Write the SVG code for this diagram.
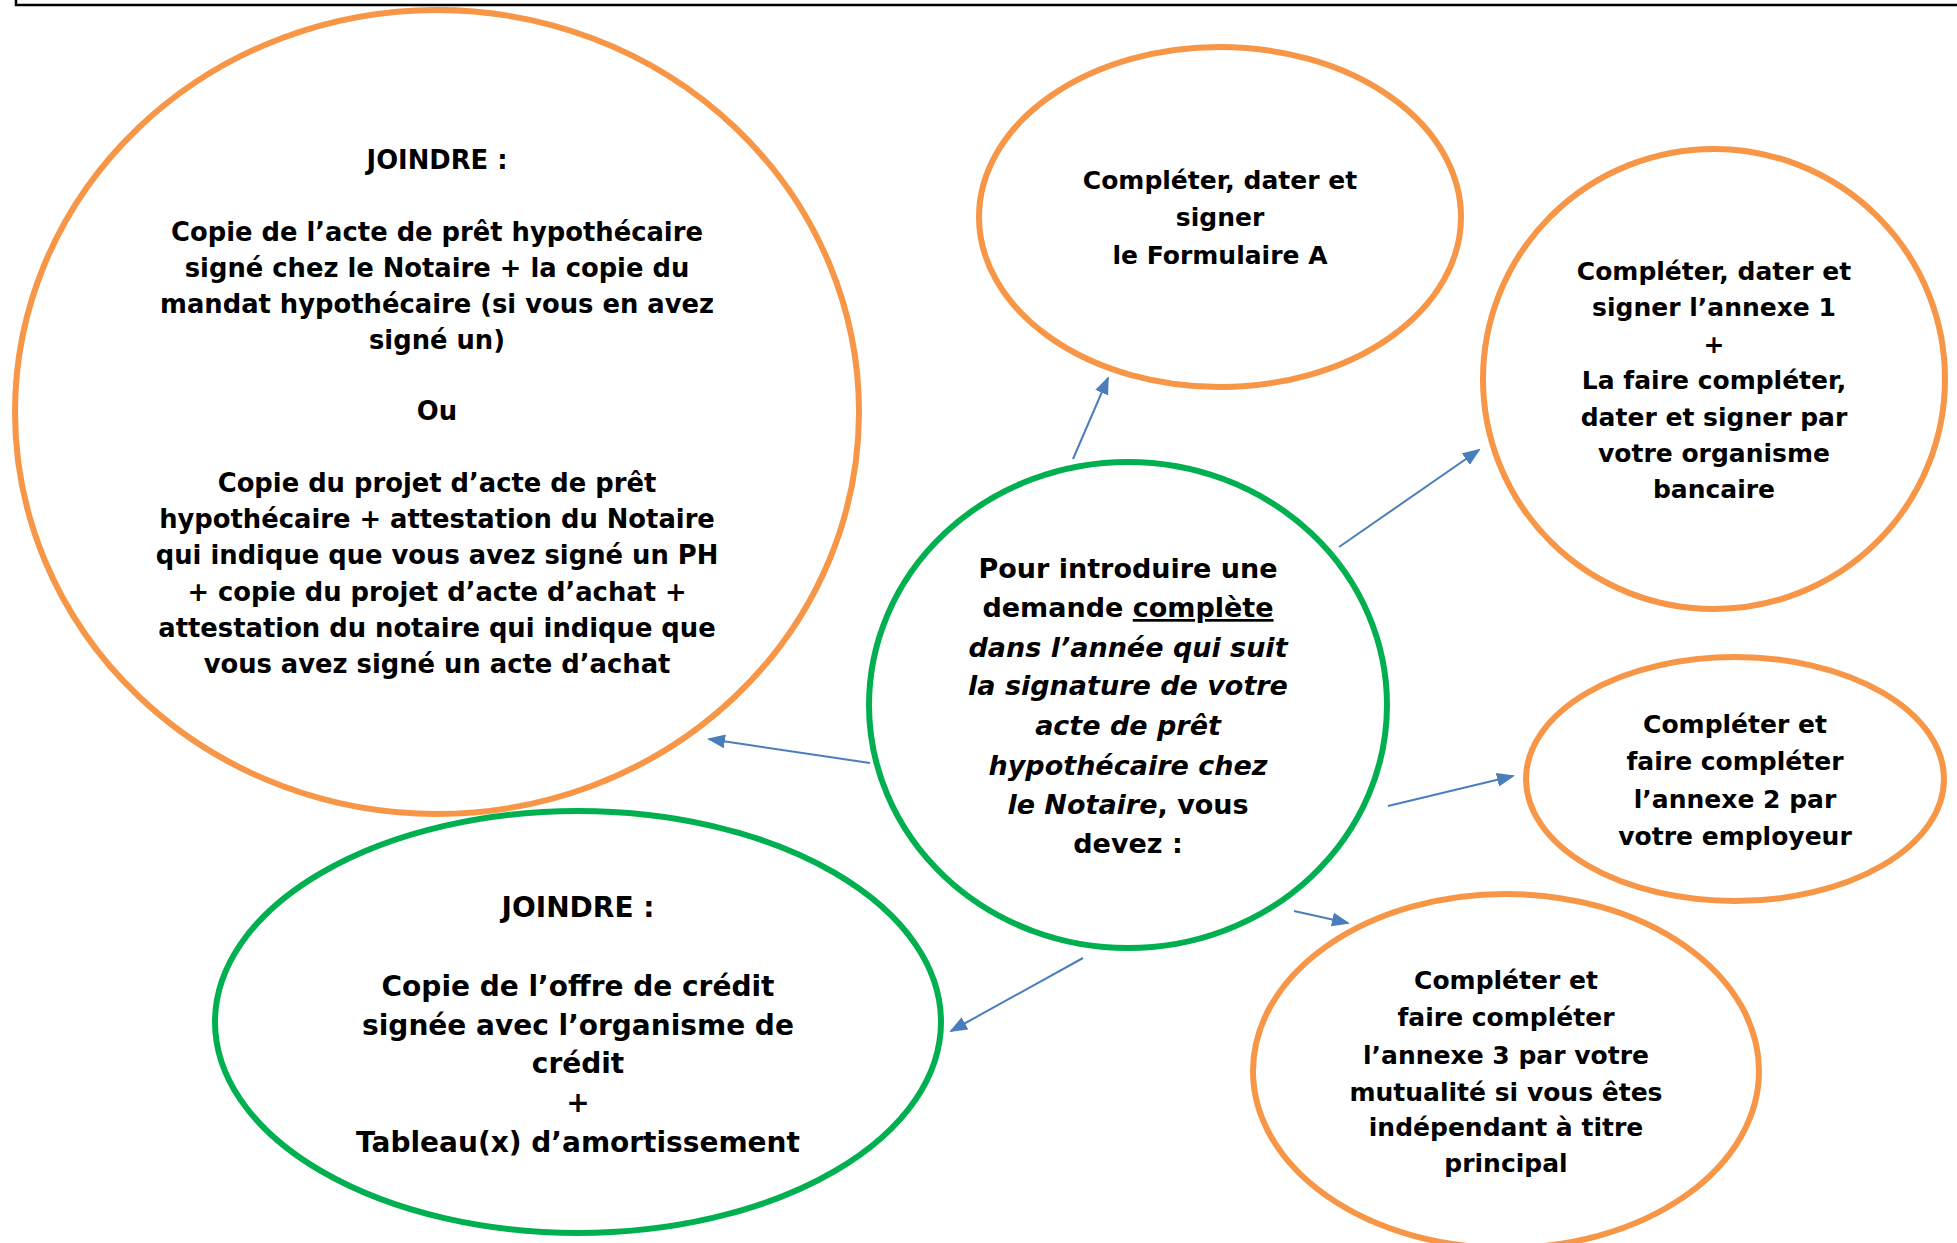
<svg xmlns="http://www.w3.org/2000/svg" width="1957" height="1243" viewBox="0 0 1957 1243">
<style>
.bg{fill:#ffffff}
.frame{fill:none;stroke:#000;stroke-width:2.5}
.orange{fill:#ffffff;stroke:#F79646;stroke-width:6}
.green{fill:#ffffff;stroke:#00B050;stroke-width:6}
.conn{stroke:#4A7EBB;stroke-width:2;fill:none;marker-end:url(#arr)}
text{font-family:"DejaVu Sans","Liberation Sans",sans-serif;font-weight:bold;fill:#000;text-anchor:middle}
.t25{font-size:25px}
.t26{font-size:25.8px}
.t27{font-size:27px}
.t28{font-size:28px}
.it{font-style:italic}
.ul{text-decoration:underline}
</style>
<defs>
<marker id="arr" markerWidth="18" markerHeight="14" refX="16" refY="7" orient="auto" markerUnits="userSpaceOnUse">
<path d="M0,0 L18,7 L0,14 Z" fill="#4A7EBB"/>
</marker>
</defs>
<rect class="bg" x="0" y="0" width="1957" height="1243"/>
<path class="frame" d="M16,0 V5 H1957"/>

<g id="connectors">
<line class="conn" x1="1073" y1="459" x2="1108" y2="378"/>
<line class="conn" x1="1339" y1="547" x2="1479" y2="450"/>
<line class="conn" x1="870" y1="763" x2="709" y2="739"/>
<line class="conn" x1="1388" y1="806" x2="1513" y2="776"/>
<line class="conn" x1="1294" y1="911" x2="1348" y2="923"/>
<line class="conn" x1="1083" y1="958" x2="951" y2="1031"/>
</g>

<g id="node-joindre-acte">
<ellipse class="orange" cx="437" cy="412" rx="422" ry="402"/>
<text class="t26" x="437" y="169">JOINDRE :</text>
<text class="t26" x="437" y="241">Copie de l’acte de prêt hypothécaire</text>
<text class="t26" x="437" y="277">signé chez le Notaire + la copie du</text>
<text class="t26" x="437" y="313">mandat hypothécaire (si vous en avez</text>
<text class="t26" x="437" y="349">signé un)</text>
<text class="t26" x="437" y="420">Ou</text>
<text class="t26" x="437" y="492">Copie du projet d’acte de prêt</text>
<text class="t26" x="437" y="528">hypothécaire + attestation du Notaire</text>
<text class="t26" x="437" y="564">qui indique que vous avez signé un PH</text>
<text class="t26" x="437" y="601">+ copie du projet d’acte d’achat +</text>
<text class="t26" x="437" y="637">attestation du notaire qui indique que</text>
<text class="t26" x="437" y="673">vous avez signé un acte d’achat</text>
</g>

<g id="node-formulaire-a">
<ellipse class="orange" cx="1220" cy="217" rx="241" ry="170"/>
<text class="t25" x="1220" y="189">Compléter, dater et</text>
<text class="t25" x="1220" y="226">signer</text>
<text class="t25" x="1220" y="264">le Formulaire A</text>
</g>

<g id="node-annexe1">
<ellipse class="orange" cx="1714" cy="379" rx="231" ry="230"/>
<text class="t25" x="1714" y="280">Compléter, dater et</text>
<text class="t25" x="1714" y="316">signer l’annexe 1</text>
<text class="t25" x="1714" y="353">+</text>
<text class="t25" x="1714" y="389">La faire compléter,</text>
<text class="t25" x="1714" y="426">dater et signer par</text>
<text class="t25" x="1714" y="462">votre organisme</text>
<text class="t25" x="1714" y="498">bancaire</text>
</g>

<g id="node-center">
<ellipse class="green" cx="1128" cy="705" rx="259" ry="243"/>
<text class="t27" x="1128" y="578">Pour introduire une</text>
<text class="t27" x="1128" y="617">demande <tspan class="ul">complète</tspan></text>
<text class="t27 it" x="1128" y="657">dans l’année qui suit</text>
<text class="t27 it" x="1128" y="695">la signature de votre</text>
<text class="t27 it" x="1128" y="735">acte de prêt</text>
<text class="t27 it" x="1128" y="775">hypothécaire chez</text>
<text class="t27" x="1128" y="814"><tspan class="it">le Notaire</tspan>, vous</text>
<text class="t27" x="1128" y="853">devez :</text>
</g>

<g id="node-annexe2">
<ellipse class="orange" cx="1735" cy="779" rx="209" ry="122"/>
<text class="t25" x="1735" y="733">Compléter et</text>
<text class="t25" x="1735" y="770">faire compléter</text>
<text class="t25" x="1735" y="808">l’annexe 2 par</text>
<text class="t25" x="1735" y="845">votre employeur</text>
</g>

<g id="node-annexe3">
<ellipse class="orange" cx="1506" cy="1071" rx="253" ry="177"/>
<text class="t25" x="1506" y="989">Compléter et</text>
<text class="t25" x="1506" y="1026">faire compléter</text>
<text class="t25" x="1506" y="1064">l’annexe 3 par votre</text>
<text class="t25" x="1506" y="1101">mutualité si vous êtes</text>
<text class="t25" x="1506" y="1136">indépendant à titre</text>
<text class="t25" x="1506" y="1172">principal</text>
</g>

<g id="node-joindre-credit">
<ellipse class="green" cx="578" cy="1022" rx="363" ry="211"/>
<text class="t28" x="578" y="917">JOINDRE :</text>
<text class="t28" x="578" y="996">Copie de l’offre de crédit</text>
<text class="t28" x="578" y="1035">signée avec l’organisme de</text>
<text class="t28" x="578" y="1073">crédit</text>
<text class="t28" x="578" y="1112">+</text>
<text class="t28" x="578" y="1152">Tableau(x) d’amortissement</text>
</g>
</svg>
